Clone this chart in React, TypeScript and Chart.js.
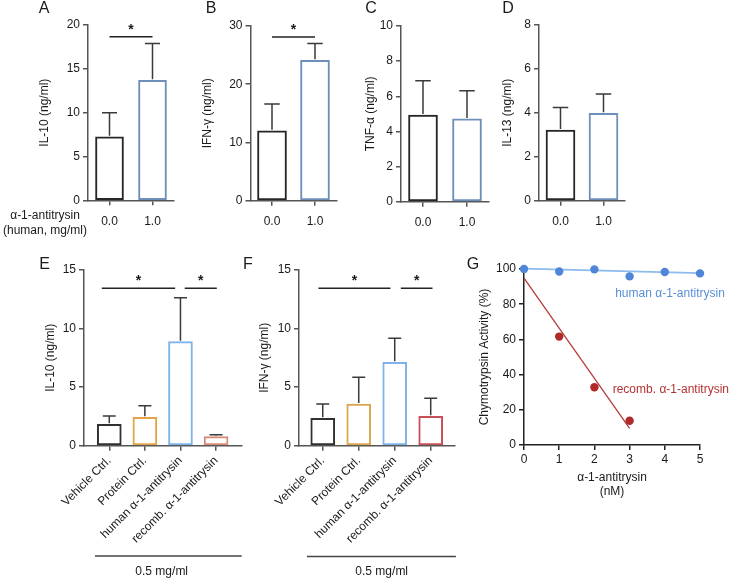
import React, { useEffect, useRef } from 'react';
import { Chart, registerables } from 'chart.js';

Chart.register(...registerables);

const W = 731;
const H = 579;
const FONT = "'Liberation Sans', Arial, Helvetica, sans-serif";
const TEXT = '#1a1a1a';
const AXIS = '#555555';

// ---------- Data: panels A-D (human alpha-1-antitrypsin dose) ----------
const doseLabels = ['0.0', '1.0'];
const il10Mean = [7.25, 13.7];
const il10Sem = [2.75, 4.2];
const ifngMean = [12.0, 24.1];
const ifngSem = [4.6, 2.9];
const tnfMean = [4.93, 4.71];
const tnfSem = [1.96, 1.61];
const il13Mean = [3.22, 3.98];
const il13Sem = [1.02, 0.88];

// ---------- Data: panels E-F (treatments, 0.5 mg/ml) ----------
const treatLabels = ['Vehicle Ctrl.', 'Protein Ctrl.', 'human α-1-antitrysin', 'recomb. α-1-antitrysin'];
const il10TreatMean = [1.83, 2.42, 8.88, 0.77];
const il10TreatSem = [0.71, 1.0, 3.76, 0.17];
const ifngTreatMean = [2.34, 3.56, 7.12, 2.51];
const ifngTreatSem = [1.22, 2.28, 2.05, 1.54];

// ---------- Data: panel G (chymotrypsin activity) ----------
const humanDoseNM = [0, 1, 2, 3, 4, 5];
const humanActivity = [100, 98.6, 99.8, 95.8, 98.3, 97.5];
const recombDoseNM = [1, 2, 3];
const recombActivity = [61.6, 32.8, 13.8];
const humanFitX = [0, 5];
const humanFitY = [100.2, 97.6];
const recombFitX = [0, 3];
const recombFitY = [94.8, 9.5];

// significance brackets (x in category units, level in axis units)
const bracketsA = [{ from: 0, to: 1, level: 18.65 }];
const bracketsB = [{ from: 0, to: 1, level: 28.1 }];
const bracketsE = [
  { from: -0.21, to: 1.85, level: 13.44 },
  { from: 2.12, to: 3.02, level: 13.44 },
];
const bracketsF = [
  { from: -0.12, to: 1.88, level: 13.44 },
  { from: 2.17, to: 3.05, level: 13.44 },
];

const doseColors = ['#262626', '#6e8fba'];
const treatColorsE = ['#303030', '#e3a445', '#7db4ea', '#d98a78'];
const treatColorsF = ['#303030', '#dca54f', '#80b2ea', '#c84e58'];

type TextItem = { text: string; x: number; y: number; size?: number; color?: string; align?: CanvasTextAlign; baseline?: CanvasTextBaseline };

type BarPanel = {
  labels: string[];
  mean: number[];
  sem: number[];
  colors: string[];
  yMax: number;
  yStep: number;
  yTitle: string;
  area: { l: number; r: number; t: number; b: number };
  titleX: number;
  xMin: number;
  xMax: number;
  barW: number;
  xHeight: number;
  rotate: boolean;
  brackets: { from: number; to: number; level: number }[];
  texts: TextItem[];
  group?: { from: number; to: number; y: number; label: string; labelX: number; labelY: number };
};

const barPanels: BarPanel[] = [
  {
    labels: doseLabels, mean: il10Mean, sem: il10Sem, colors: doseColors, yMax: 20, yStep: 5,
    yTitle: 'IL-10 (ng/ml)', area: { l: 88, r: 174, t: 25, b: 200.3 }, titleX: 45,
    xMin: -0.5, xMax: 1.5, barW: 28, xHeight: 30, rotate: false, brackets: bracketsA,
    texts: [
      { text: 'A', x: 44, y: 13.3, size: 16 },
      { text: 'α-1-antitrysin', x: 45, y: 216, baseline: 'middle' },
      { text: '(human, mg/ml)', x: 45, y: 230.7, baseline: 'middle' },
    ],
  },
  {
    labels: doseLabels, mean: ifngMean, sem: ifngSem, colors: doseColors, yMax: 30, yStep: 10,
    yTitle: 'IFN-γ (ng/ml)', area: { l: 250.5, r: 336.5, t: 26, b: 200.7 }, titleX: 208,
    xMin: -0.5, xMax: 1.5, barW: 29, xHeight: 30, rotate: false, brackets: bracketsB,
    texts: [{ text: 'B', x: 211, y: 13.3, size: 16 }],
  },
  {
    labels: doseLabels, mean: tnfMean, sem: tnfSem, colors: doseColors, yMax: 10, yStep: 2,
    yTitle: 'TNF-α (ng/ml)', area: { l: 401, r: 489, t: 26, b: 201.7 }, titleX: 371,
    xMin: -0.5, xMax: 1.5, barW: 29, xHeight: 30, rotate: false, brackets: [],
    texts: [{ text: 'C', x: 371, y: 13.3, size: 16 }],
  },
  {
    labels: doseLabels, mean: il13Mean, sem: il13Sem, colors: doseColors, yMax: 8, yStep: 2,
    yTitle: 'IL-13 (ng/ml)', area: { l: 539, r: 625, t: 25, b: 200.7 }, titleX: 508,
    xMin: -0.5, xMax: 1.5, barW: 29, xHeight: 30, rotate: false, brackets: [],
    texts: [{ text: 'D', x: 508, y: 13.3, size: 16 }],
  },
  {
    labels: treatLabels, mean: il10TreatMean, sem: il10TreatSem, colors: treatColorsE, yMax: 15, yStep: 5,
    yTitle: 'IL-10 (ng/ml)', area: { l: 84, r: 241.7, t: 270, b: 445.7 }, titleX: 51,
    xMin: -0.71, xMax: 3.72, barW: 24, xHeight: 110, rotate: true, brackets: bracketsE,
    texts: [{ text: 'E', x: 44.5, y: 269, size: 16 }],
    group: { from: -0.4, to: 3.72, y: 556, label: '0.5 mg/ml', labelX: 161.7, labelY: 571.7 },
  },
  {
    labels: treatLabels, mean: ifngTreatMean, sem: ifngTreatSem, colors: treatColorsF, yMax: 15, yStep: 5,
    yTitle: 'IFN-γ (ng/ml)', area: { l: 299, r: 455, t: 270, b: 445.7 }, titleX: 265,
    xMin: -0.66, xMax: 3.675, barW: 24, xHeight: 110, rotate: true, brackets: bracketsF,
    texts: [{ text: 'F', x: 248, y: 269, size: 16 }],
    group: { from: -0.44, to: 3.7, y: 556.5, label: '0.5 mg/ml', labelX: 381.7, labelY: 572 },
  },
];

function drawTexts(ctx: CanvasRenderingContext2D, items: TextItem[]) {
  items.forEach((t) => {
    ctx.font = `${t.size ?? 12}px ${FONT}`;
    ctx.fillStyle = t.color ?? TEXT;
    ctx.textAlign = t.align ?? 'center';
    ctx.textBaseline = t.baseline ?? 'alphabetic';
    ctx.fillText(t.text, t.x, t.y);
  });
}

function makeBarExtras(p: BarPanel) {
  return {
    id: 'barExtras',
    afterDatasetsDraw(chart: any) {
      const { ctx } = chart;
      const xs = chart.scales.x;
      const ys = chart.scales.y;
      const meta = chart.getDatasetMeta(0);
      ctx.save();
      ctx.strokeStyle = '#3a3a3a';
      ctx.lineWidth = 1.5;
      const cap = p.barW * 0.5 + 1;
      p.mean.forEach((m, i) => {
        const el = meta.data[i];
        const px = el.x;
        const y0 = ys.getPixelForValue(m);
        const y1 = ys.getPixelForValue(m + p.sem[i]);
        ctx.beginPath();
        ctx.moveTo(px, y0 - 1);
        ctx.lineTo(px, y1);
        ctx.moveTo(px - cap / 2, y1);
        ctx.lineTo(px + cap / 2, y1);
        ctx.stroke();
      });
      ctx.strokeStyle = '#222';
      p.brackets.forEach((b) => {
        const x1 = xs.getPixelForValue(b.from);
        const x2 = xs.getPixelForValue(b.to);
        const yy = ys.getPixelForValue(b.level);
        ctx.beginPath();
        ctx.moveTo(x1, yy);
        ctx.lineTo(x2, yy);
        ctx.stroke();
        ctx.font = `bold 14px ${FONT}`;
        ctx.fillStyle = TEXT;
        ctx.textAlign = 'center';
        ctx.textBaseline = 'middle';
        ctx.fillText('*', (x1 + x2) / 2, yy - 7);
      });
      if (p.group) {
        const g = p.group;
        ctx.strokeStyle = '#444';
        ctx.beginPath();
        ctx.moveTo(xs.getPixelForValue(g.from), g.y);
        ctx.lineTo(xs.getPixelForValue(g.to), g.y);
        ctx.stroke();
        drawTexts(ctx, [{ text: g.label, x: g.labelX, y: g.labelY, baseline: 'middle' }]);
      }
      drawTexts(ctx, p.texts);
      ctx.restore();
    },
  };
}

function axisCommon(color: string) {
  return {
    grid: { display: true, drawOnChartArea: false, drawTicks: true, tickLength: 5, color, lineWidth: 1.5, offset: false },
    border: { display: true, color, width: 1.5 },
  };
}

function makeBarChart(canvas: HTMLCanvasElement, p: BarPanel) {
  const titleLeft = p.titleX - 7.2;
  return new Chart(canvas, {
    type: 'bar',
    data: {
      datasets: [
        {
          data: p.mean.map((v, i) => ({ x: i, y: v })) as any,
          backgroundColor: '#ffffff',
          borderColor: p.colors,
          borderWidth: 2,
          borderSkipped: false,
          barThickness: p.barW,
        } as any,
      ],
    },
    options: {
      animation: false,
      responsive: false,
      devicePixelRatio: 1,
      layout: {
        padding: { left: titleLeft, top: p.area.t, right: W - p.area.r, bottom: H - p.area.b - p.xHeight },
      },
      plugins: { legend: { display: false }, tooltip: { enabled: false } },
      scales: {
        x: {
          type: 'linear',
          min: p.xMin,
          max: p.xMax,
          offset: false,
          afterBuildTicks: (s: any) => {
            s.ticks = p.labels.map((_, i) => ({ value: i }));
          },
          afterFit: (s: any) => {
            s.height = p.xHeight;
          },
          ticks: {
            callback: (v: any) => p.labels[Math.round(Number(v))] ?? '',
            autoSkip: false,
            minRotation: p.rotate ? 45 : 0,
            maxRotation: p.rotate ? 45 : 0,
            padding: p.rotate ? 3 : 9,
            color: TEXT,
            font: { family: FONT, size: 12 },
          },
          ...axisCommon(AXIS),
        } as any,
        y: {
          type: 'linear',
          min: 0,
          max: p.yMax,
          afterFit: (s: any) => {
            s.width = p.area.l - titleLeft;
          },
          ticks: { stepSize: p.yStep, padding: 3, color: TEXT, font: { family: FONT, size: 12 } },
          title: { display: true, text: p.yTitle, color: TEXT, padding: 0, font: { family: FONT, size: 12, lineHeight: 1.2 } },
          ...axisCommon(AXIS),
        } as any,
      },
    },
    plugins: [makeBarExtras(p)],
  });
}

function makeActivityChart(canvas: HTMLCanvasElement) {
  const area = { l: 524, r: 700, t: 269, b: 445 };
  const titleLeft = 485 - 7.2;
  const xHeight = 54.2;
  const texts: TextItem[] = [{ text: 'G', x: 473, y: 269, size: 16 }];
  const seriesLabels = [
    { text: 'human α-1-antitrysin', x: 2.59, y: 86.2, color: '#5a8fd6' },
    { text: 'recomb. α-1-antitrysin', x: 2.52, y: 31.3, color: '#b53232' },
  ];
  return new Chart(canvas, {
    type: 'scatter',
    data: {
      datasets: [
        {
          data: humanDoseNM.map((x, i) => ({ x, y: humanActivity[i] })),
          backgroundColor: '#4f86d8',
          pointRadius: 4.2,
          pointBorderWidth: 0,
          clip: false,
        } as any,
        {
          data: recombDoseNM.map((x, i) => ({ x, y: recombActivity[i] })),
          backgroundColor: '#b02a2a',
          pointRadius: 4.2,
          pointBorderWidth: 0,
          clip: false,
        } as any,
        {
          data: humanFitX.map((x, i) => ({ x, y: humanFitY[i] })),
          showLine: true,
          borderColor: '#8dbbec',
          borderWidth: 1.8,
          pointRadius: 0,
          clip: false,
        } as any,
        {
          data: recombFitX.map((x, i) => ({ x, y: recombFitY[i] })),
          showLine: true,
          borderColor: '#b53c3c',
          borderWidth: 1.3,
          pointRadius: 0,
          clip: false,
        } as any,
      ],
    },
    options: {
      animation: false,
      responsive: false,
      devicePixelRatio: 1,
      layout: { padding: { left: titleLeft, top: area.t, right: W - area.r, bottom: H - area.b - xHeight } },
      plugins: { legend: { display: false }, tooltip: { enabled: false } },
      scales: {
        x: {
          type: 'linear',
          min: 0,
          max: 5,
          afterFit: (s: any) => {
            s.height = xHeight;
          },
          ticks: { stepSize: 1, padding: 2, color: TEXT, font: { family: FONT, size: 12 } },
          title: { display: true, text: ['α-1-antitrysin', '(nM)'], color: TEXT, padding: 0, font: { family: FONT, size: 12, lineHeight: 1.2 } },
          ...axisCommon('#222'),
        } as any,
        y: {
          type: 'linear',
          min: 0,
          max: 100,
          afterFit: (s: any) => {
            s.width = area.l - titleLeft;
          },
          ticks: { stepSize: 20, padding: 3, color: TEXT, font: { family: FONT, size: 12 } },
          title: { display: true, text: 'Chymotrypsin Activity (%)', color: TEXT, padding: 0, font: { family: FONT, size: 12, lineHeight: 1.2 } },
          ...axisCommon('#222'),
        } as any,
      },
    },
    plugins: [
      {
        id: 'activityText',
        afterDraw(chart: any) {
          const { ctx } = chart;
          const xs = chart.scales.x;
          const ys = chart.scales.y;
          ctx.save();
          drawTexts(ctx, texts);
          drawTexts(
            ctx,
            seriesLabels.map((s) => ({
              text: s.text,
              x: xs.getPixelForValue(s.x),
              y: ys.getPixelForValue(s.y),
              color: s.color,
              align: 'left' as CanvasTextAlign,
              baseline: 'middle' as CanvasTextBaseline,
            }))
          );
          ctx.restore();
        },
      },
    ],
  });
}

export default function App() {
  const refs = useRef<(HTMLCanvasElement | null)[]>([]);
  useEffect(() => {
    const charts: Chart[] = [];
    barPanels.forEach((p, i) => {
      const c = refs.current[i];
      if (c) charts.push(makeBarChart(c, p));
    });
    const g = refs.current[barPanels.length];
    if (g) charts.push(makeActivityChart(g));
    return () => charts.forEach((c) => c.destroy());
  }, []);
  return (
    <div style={{ position: 'absolute', left: 0, top: 0, width: W, height: H, background: '#ffffff' }}>
      {Array.from({ length: barPanels.length + 1 }).map((_, i) => (
        <canvas
          key={i}
          ref={(el) => {
            refs.current[i] = el;
          }}
          width={W}
          height={H}
          style={{ position: 'absolute', left: 0, top: 0, width: W, height: H }}
        />
      ))}
    </div>
  );
}
